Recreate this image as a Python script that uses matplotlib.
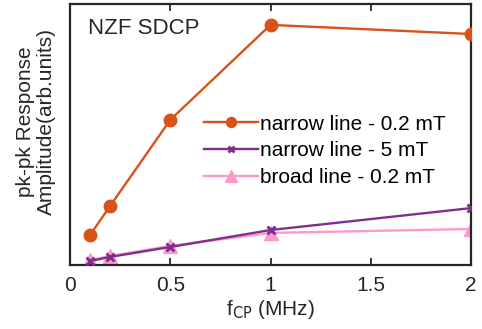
import matplotlib.pyplot as plt
import numpy as np

plt.rcParams['font.family'] = ['Liberation Sans', 'DejaVu Sans']

# frequencia f_CP (MHz)
fcp = [0.1, 0.2, 0.5, 1.0, 2.0]
# amplitudes (unidades arbitrarias)
narrow_02 = [0.115, 0.226, 0.556, 0.920, 0.885]
narrow_5 = [0.015, 0.031, 0.069, 0.134, 0.218]
broad_02 = [0.019, 0.034, 0.073, 0.123, 0.138]

fig = plt.figure(figsize=(4.82, 3.29), dpi=100)
ax = fig.add_axes([70/482, 1-265/329, 401/482, 261/329])

ax.plot(fcp, narrow_02, '-o', color='#D95319', lw=1.7, ms=9,
        label='narrow line - 0.2 mT', zorder=3)
ax.plot(fcp, narrow_5, '-x', color='#7E2F8E', lw=1.7, ms=5.5, mew=2,
        label='narrow line - 5 mT', zorder=3)
ax.plot(fcp, broad_02, '-^', color='#FF99CC', lw=1.7, ms=10,
        label='broad line - 0.2 mT', zorder=2)

ax.set_xlim(0, 2)
ax.set_ylim(0, 1)
ax.set_xticks([0, 0.5, 1, 1.5, 2])
ax.set_xticklabels(['0', '0.5', '1', '1.5', '2'])
ax.set_yticks([])
ax.tick_params(axis='x', direction='in', top=True, length=5, width=1.3,
               labelsize=15, pad=8, colors='#262626')
for s in ax.spines.values():
    s.set_linewidth(1.6)
    s.set_color('#262626')

ax.text(0.045, 0.945, 'NZF SDCP', transform=ax.transAxes, fontsize=16,
        va='top', ha='left', color='#262626')
ax.set_ylabel('pk-pk Response\nAmplitude(arb.units)', fontsize=15,
              color='#262626', linespacing=1.15)
ax.yaxis.set_label_coords(-0.035, 0.55)
ax.set_xlabel('f$_{\\mathrm{CP}}$ (MHz)', fontsize=15, color='#262626')
ax.xaxis.set_label_coords(0.5, -0.125)

ax.legend(loc='center left', bbox_to_anchor=(0.334, 0.437), frameon=False,
          fontsize=15, handlelength=2.6, handletextpad=0.1,
          labelspacing=0.38, borderpad=0, borderaxespad=0, markerscale=0.8)

fig.savefig('out.png', dpi=100)
